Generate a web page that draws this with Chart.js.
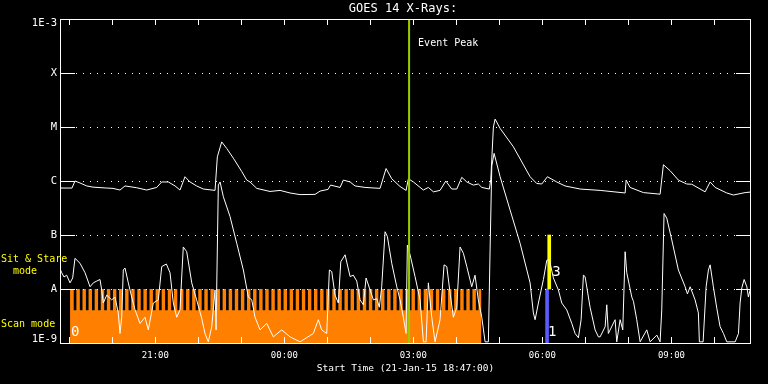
<!DOCTYPE html>
<html>
<head>
<meta charset="utf-8">
<title>GOES 14 X-Rays</title>
<script src="https://cdn.jsdelivr.net/npm/chart.js@4.4.1/dist/chart.umd.min.js"></script>
<style>
  html, body { margin: 0; padding: 0; background: #000; }
  canvas { display: block; }
</style>
</head>
<body>
<canvas id="goes-chart" width="768" height="384"></canvas>
<script>
// times are minutes after the start time (21-Jan-15 18:47:00)

// 1-8 A channel: [minutes, W/m^2]
const longChannel = [
  [0, 8.1e-7], [1.4, 7.4e-7], [16.7, 7.4e-7], [20.9, 1.0e-6], [27.9, 9.2e-7],
  [37.3, 8.1e-7], [46, 7.7e-7], [65.2, 7.4e-7], [74, 7.3e-7], [83.7, 6.8e-7],
  [90.7, 8.1e-7], [107, 7.5e-7], [121, 6.8e-7], [134.9, 7.6e-7], [141.9, 9.6e-7],
  [151.1, 9.6e-7], [160.5, 8.1e-7], [167.4, 6.8e-7], [174.4, 1.2e-6], [181.4, 9.6e-7],
  [190.6, 8.1e-7], [200, 7.1e-7], [216.3, 6.7e-7], [219.5, 2.8e-6], [225.6, 5.3e-6],
  [232.6, 4.0e-6], [241.8, 2.65e-6], [253.5, 1.5e-6], [260.5, 1.04e-6], [265.1, 9.6e-7],
  [274.5, 7.3e-7], [293, 6.4e-7], [307, 6.7e-7], [320.9, 6.0e-7], [334.9, 5.6e-7],
  [355.8, 5.65e-7], [362.8, 6.5e-7], [374, 7.0e-7], [377.4, 8.4e-7], [390.7, 7.6e-7],
  [395.3, 1.04e-6], [404.7, 9.6e-7], [411.6, 8.1e-7], [425.6, 7.6e-7], [446.5, 7.3e-7],
  [454.9, 1.7e-6], [462.8, 1.1e-6], [474.4, 7.9e-7], [482.8, 6.7e-7], [486, 1.1e-6],
  [493, 9.6e-7], [506.9, 6.8e-7], [513.9, 7.6e-7], [520.9, 6.3e-7], [530.2, 6.7e-7],
  [538.2, 1.0e-6], [546.5, 7.1e-7], [553.5, 7.1e-7], [560.5, 1.17e-6], [567.5, 9.6e-7],
  [576.7, 8.4e-7], [583.6, 8.8e-7], [588.4, 7.6e-7], [599, 7.1e-7], [601, 1.08e-6],
  [604.6, 1.0e-5], [607, 1.4e-5], [614, 9.4e-6], [632.5, 4.3e-6], [655.8, 1.2e-6],
  [665.1, 9.0e-7], [672.1, 8.8e-7], [680, 1.2e-6], [693, 9.6e-7], [704.6, 8.1e-7],
  [725.6, 7.1e-7], [753.5, 6.7e-7], [788.4, 6.0e-7], [789.8, 1.04e-6], [795.3, 7.6e-7],
  [813.9, 6.1e-7], [837.2, 5.7e-7], [841.8, 2.0e-6], [851.2, 1.55e-6], [862.7, 1.04e-6],
  [874.4, 8.8e-7], [881.4, 8.7e-7], [900, 6.3e-7], [907, 9.6e-7], [914, 7.6e-7],
  [930.2, 6.0e-7], [939.5, 5.5e-7], [955.8, 6.1e-7], [964, 6.25e-7]
];

// 0.5-4 A channel: [minutes, W/m^2]
const shortChannel = [
  [0, 4.3e-8], [0.7, 2.25e-8], [2.4, 2.0e-8], [5.6, 1.67e-8], [9.3, 1.8e-8],
  [14, 1.3e-8], [17.7, 1.6e-8], [20.9, 3.7e-8], [27.9, 3.0e-8], [34.9, 2.0e-8],
  [41.9, 1.1e-8], [46.5, 1.3e-8], [51.2, 1.4e-8], [55.8, 1.5e-8], [58.2, 9.6e-9],
  [60.4, 5.5e-9], [65.2, 7.7e-9], [72.1, 6.3e-9], [76.7, 7.1e-9], [81.3, 3.6e-9],
  [83.7, 1.5e-9], [86.1, 3.0e-9], [88.3, 2.25e-8], [90.7, 2.45e-8], [95.3, 1.3e-8],
  [100, 7.1e-9], [104.7, 4.1e-9], [111.6, 2.3e-9], [118.6, 3.0e-9], [123.2, 1.75e-9],
  [130.2, 5.5e-9], [137.2, 6.3e-9], [141.9, 2.6e-8], [148.4, 2.9e-8], [153.5, 2.0e-8],
  [158.1, 5.5e-9], [162.8, 3.0e-9], [167.4, 4.1e-9], [172, 6.0e-8], [176.8, 4.9e-8],
  [183.8, 1.3e-8], [190.6, 6.3e-9], [197.3, 3.0e-9], [202.3, 1.5e-9], [206.9, 1.05e-9],
  [211.7, 2.0e-9], [216.3, 9.6e-9], [217.7, 1.75e-9], [220.9, 8.4e-7], [223.3, 9.6e-7],
  [227.9, 5.1e-7], [237.2, 2.2e-7], [246.6, 7.0e-8], [255.8, 2.25e-8], [262.7, 7.1e-9],
  [267.5, 6.3e-9], [272.1, 3.0e-9], [279.1, 1.75e-9], [288.4, 2.3e-9], [297.6, 1.3e-9],
  [309.3, 1.75e-9], [320.9, 1.3e-9], [334.9, 1.05e-9], [353.4, 1.5e-9], [360.4, 2.7e-9],
  [365.1, 1.75e-9], [372.1, 1.5e-9], [375.8, 2.25e-8], [379.1, 2.1e-8], [383.7, 7.7e-9],
  [388.3, 5.5e-9], [391.7, 3.2e-8], [397.7, 4.3e-8], [404.7, 1.7e-8], [409.2, 1.8e-8],
  [414, 1.4e-8], [418.6, 6.3e-9], [423.2, 5.1e-9], [427, 1.6e-8], [432.6, 9.6e-9],
  [437.2, 6.3e-9], [441.9, 6.6e-9], [445.5, 4.6e-9], [448.8, 1.1e-8], [453.5, 1.15e-7],
  [456.7, 9.4e-8], [462.8, 3.0e-8], [469.8, 1.1e-8], [474.4, 6.3e-9], [479, 3.0e-9],
  [482.8, 1.5e-9], [484.6, 6.5e-8], [488.4, 4.3e-8], [495.3, 1.7e-8], [502.3, 6.3e-9],
  [507, 1.05e-9], [510.7, 1.05e-9], [513.9, 1.3e-8], [518.6, 3.0e-9], [523.2, 1.05e-9],
  [530.2, 2.7e-9], [535.8, 2.8e-8], [539.6, 2.6e-8], [544.2, 8.4e-9], [548.8, 3.0e-9],
  [553.5, 4.6e-9], [558.1, 6.0e-8], [562.7, 4.6e-8], [567.5, 2.6e-8], [574.4, 1.1e-8],
  [579, 1.8e-8], [583.6, 6.3e-9], [588.4, 3.0e-9], [593, 1.05e-9], [597.6, 1.05e-9],
  [600, 5.3e-8], [602.4, 1.9e-6], [605.6, 3.25e-6], [614, 1.2e-6], [627.9, 2.9e-7],
  [641.9, 7.0e-8], [655.8, 1.3e-8], [660.4, 3.6e-9], [662.8, 2.7e-9], [667.4, 5.5e-9],
  [674.4, 1.5e-8], [679.1, 3.4e-8], [682.7, 3.5e-8], [688.3, 1.6e-8], [695.3, 9.6e-9],
  [700, 5.5e-9], [707, 4.1e-9], [714, 2.3e-9], [718.6, 1.5e-9], [723.2, 1.25e-9],
  [727, 2.7e-9], [730.2, 1.8e-8], [732.5, 1.7e-8], [739.5, 4.6e-9], [746.5, 1.75e-9],
  [751.1, 1.3e-9], [753.5, 1.3e-9], [760.5, 2.0e-9], [762.8, 5.1e-9], [765, 1.5e-9],
  [774.4, 2.7e-9], [776.7, 1.05e-9], [781.4, 2.7e-9], [785.1, 1.75e-9], [788.4, 4.9e-8],
  [790.7, 2.0e-8], [797.7, 7.1e-9], [800, 5.9e-9], [804.6, 2.7e-9], [809.3, 1.05e-9],
  [818.6, 1.75e-9], [823.3, 1.05e-9], [832.6, 1.4e-9], [837.2, 1.05e-9], [839.5, 4.1e-9],
  [842.7, 2.5e-7], [846.5, 2.05e-7], [853.5, 8.1e-8], [862.7, 2.25e-8], [872.1, 1.1e-8],
  [875.3, 8.1e-9], [879.1, 1.1e-8], [886, 6.3e-9], [890.6, 3.6e-9], [892, 1.05e-9],
  [897.2, 1.05e-9], [901.4, 1.1e-8], [904.6, 2.25e-8], [907, 2.8e-8], [911.5, 1.1e-8],
  [916.3, 4.4e-9], [920.9, 2.0e-9], [925.6, 1.5e-9], [930.2, 1.05e-9], [941.9, 1.05e-9],
  [946.5, 1.5e-9], [948.8, 5.5e-9], [951.2, 1.05e-8], [954.4, 1.5e-8], [958.2, 1.1e-8],
  [960.4, 7.1e-9], [962.8, 9.6e-9]
];

// scan mode block and the individual scan frames inside it
const scanBlock = [14, 588];
const scanFrames = [
  21, 29.5, 38, 46.5, 55, 63.5, 72, 80.5, 89, 97.5, 106, 114.5, 123, 131.5, 140, 148.5,
  157, 165.5, 174, 182.5, 191, 199.5, 208, 216.5, 225, 233.5, 242, 250.5, 259, 267.5,
  276, 284.5, 293, 301.5, 310, 318.5, 327, 335.5, 344, 352.5, 361, 369.5, 378, 386.5,
  395, 403.5, 412, 420.5, 429, 437.5, 446, 454.5, 463, 471.5, 480, 488.5, 497, 505.5,
  514, 522.5, 531, 539.5, 548, 556.5, 565, 573.5, 582
];
const frameGap = [4.1e-9, 1e-8];

const eventPeak = 487;
const sitStare = { time: 682.5, range: [1e-8, 1e-7] };
const scanMode = { time: 679.5, range: [1e-9, 1e-8] };

// axes
const xRange = [0, 964];
const hourTicks = [13, 73, 133, 193, 253, 313, 373, 433, 493, 553, 613, 673, 733, 793, 853, 913];
const labelTicks = [133, 313, 493, 673, 853];
const tickLabels = ['21:00', '00:00', '03:00', '06:00', '09:00'];
const yTicks = [1e-9, 1e-8, 1e-7, 1e-6, 1e-5, 1e-4, 1e-3];
const yLabels = ['1E-9', 'A', 'B', 'C', 'M', 'X', '1E-3'];

const mono = '"DejaVu Sans Mono", monospace';
const toPoints = rows => rows.map(r => ({ x: r[0], y: r[1] }));

// box, inward ticks, dotted levels and the loose labels
const goesFrame = {
  id: 'goesFrame',
  afterDatasetsDraw(chart) {
    const { ctx, chartArea: a, scales: { x, y } } = chart;
    const snap = v => Math.round(v) + 0.5;
    const seg = (x1, y1, x2, y2) => {
      ctx.beginPath(); ctx.moveTo(x1, y1); ctx.lineTo(x2, y2); ctx.stroke();
    };
    ctx.save();
    ctx.strokeStyle = '#fff';
    ctx.lineWidth = 1;
    const levels = yTicks.slice(1, -1);
    ctx.setLineDash([1, 6]);
    levels.forEach(v => {
      const py = snap(y.getPixelForValue(v));
      seg(a.left + 16, py, a.right - 15, py);
    });
    ctx.setLineDash([]);
    levels.forEach(v => {
      const py = snap(y.getPixelForValue(v));
      seg(a.left, py, a.left + 15, py);
      seg(a.right - 15, py, a.right, py);
    });
    hourTicks.forEach(v => {
      const px = snap(x.getPixelForValue(v));
      seg(px, a.top, px, a.top + 6);
      seg(px, a.bottom, px, a.bottom - 6);
    });
    ctx.strokeRect(a.left + 0.5, a.top + 0.5, a.right - a.left - 1, a.bottom - a.top);
    ctx.restore();
  },
  afterDraw(chart) {
    const { ctx, chartArea: a, scales: { x } } = chart;
    ctx.save();
    ctx.textBaseline = 'middle';
    ctx.fillStyle = '#fff';
    ctx.textAlign = 'center';
    ctx.font = '12px ' + mono;
    ctx.fillText('GOES 14 X-Rays:', 403, 9);
    // end labels of the flux axis sit inside the box edges
    ctx.font = '10.5px ' + mono;
    ctx.fillText(yLabels[yLabels.length - 1], 44.5, a.top + 4);
    ctx.fillText(yLabels[0], 44.5, a.bottom - 4);
    ctx.textAlign = 'left';
    ctx.font = '10px ' + mono;
    ctx.fillText('Event Peak', x.getPixelForValue(eventPeak) + 9, 43);
    ctx.font = '14px ' + mono;
    ctx.fillText('0', x.getPixelForValue(scanBlock[0]) + 1, 332);
    ctx.fillText('1', x.getPixelForValue(scanMode.time) + 1, 332);
    ctx.fillText('3', x.getPixelForValue(sitStare.time) + 3, 272);
    ctx.fillStyle = '#ffff00';
    ctx.font = '10px ' + mono;
    ctx.fillText('Sit & Stare', 1, 259);
    ctx.fillText('mode', 13, 271);
    ctx.fillText('Scan mode', 1, 324);
    ctx.restore();
  }
};

const goesChart = new Chart(document.getElementById('goes-chart'), {
  type: 'line',
  data: {
    datasets: [
      {
        label: 'Event Peak',
        data: [{ x: eventPeak, y: 1e-3 }, { x: eventPeak, y: 1e-9 }],
        borderColor: '#99cc00', borderWidth: 2, pointRadius: 0, order: 0
      },
      {
        label: '1-8 A',
        data: toPoints(longChannel),
        borderColor: '#ffffff', borderWidth: 1, pointRadius: 0, tension: 0, order: 1
      },
      {
        label: '0.5-4 A',
        data: toPoints(shortChannel),
        borderColor: '#ffffff', borderWidth: 1, pointRadius: 0, tension: 0, order: 1
      },
      {
        type: 'bar', label: 'Sit & Stare',
        data: [{ x: sitStare.time, y: sitStare.range }],
        backgroundColor: '#ffff00', barThickness: 3, grouped: false, order: 2
      },
      {
        type: 'bar', label: 'Scan',
        data: [{ x: scanMode.time, y: scanMode.range }],
        backgroundColor: '#5a5aff', barThickness: 3, grouped: false, order: 2
      },
      {
        type: 'bar', label: 'frames',
        data: scanFrames.map(t => ({ x: t, y: frameGap })),
        backgroundColor: '#000000', barThickness: 2, grouped: false, order: 3
      },
      {
        label: 'Scan mode',
        data: [{ x: scanBlock[0], y: 1e-8 }, { x: scanBlock[1], y: 1e-8 }],
        fill: 'start', backgroundColor: '#ff8000', borderWidth: 0, pointRadius: 0, order: 4
      }
    ]
  },
  options: {
    responsive: false,
    animation: false,
    devicePixelRatio: 1,
    layout: { padding: { top: 19, right: 17, left: 0, bottom: 0 } },
    plugins: { legend: { display: false }, tooltip: { enabled: false } },
    scales: {
      x: {
        type: 'linear', min: xRange[0], max: xRange[1], offset: false,
        grid: { display: false, drawTicks: false },
        border: { display: false },
        afterBuildTicks: s => { s.ticks = hourTicks.map(v => ({ value: v })); },
        afterFit: s => { s.height = 41; },
        ticks: {
          color: '#ffffff', font: { family: mono, size: 9 }, padding: 7,
          autoSkip: false, maxRotation: 0,
          callback: v => { const i = labelTicks.indexOf(v); return i < 0 ? '' : tickLabels[i]; }
        },
        title: {
          display: true, text: 'Start Time (21-Jan-15 18:47:00)', color: '#ffffff',
          font: { family: mono, size: 9.5 }, padding: { top: 0, bottom: 10 }
        }
      },
      y: {
        type: 'logarithmic', min: yTicks[0], max: yTicks[yTicks.length - 1],
        grid: { display: false, drawTicks: false },
        border: { display: false },
        afterBuildTicks: s => { s.ticks = yTicks.map(v => ({ value: v })); },
        afterFit: s => { s.width = 60; },
        ticks: {
          color: '#ffffff', font: { family: mono, size: 10.5 }, padding: 3,
          crossAlign: 'center', autoSkip: false,
          // the two end labels are drawn by goesFrame
          callback: (v, i) => (i === 0 || i === yLabels.length - 1) ? '' : yLabels[i]
        }
      }
    }
  },
  plugins: [goesFrame]
});
</script>
</body>
</html>
